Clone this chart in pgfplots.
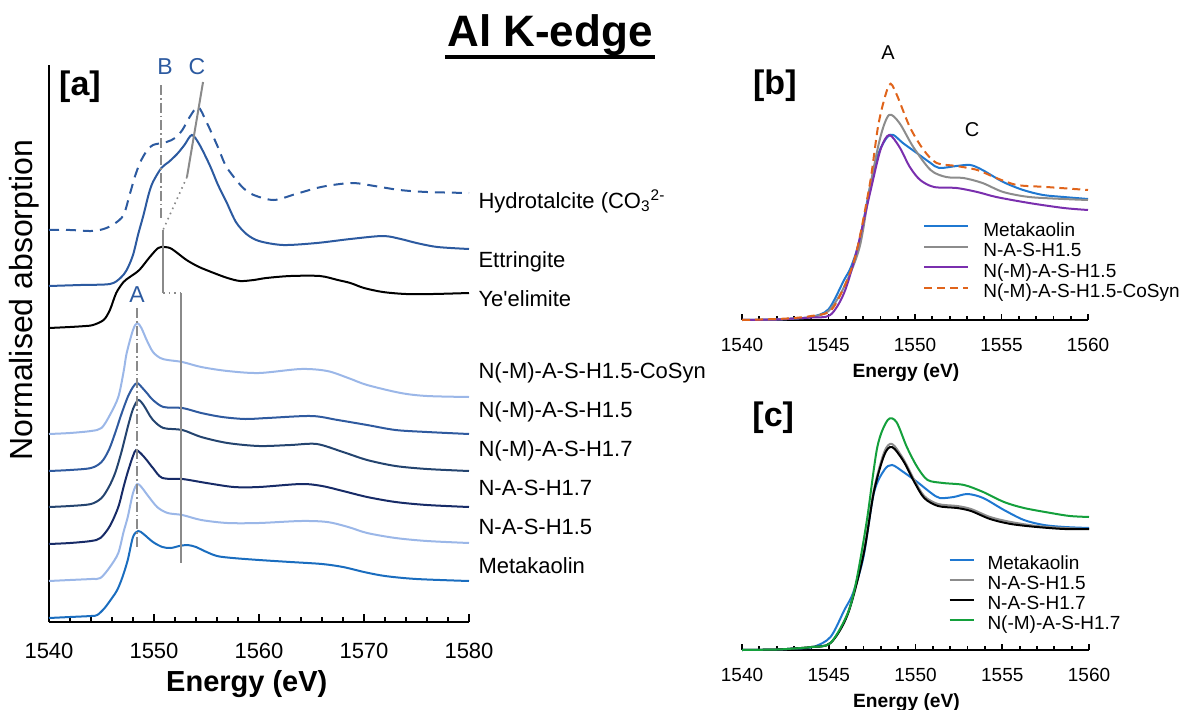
\documentclass[border=0pt]{standalone}
\usepackage{fontspec}
\setmainfont{Liberation Sans}[Ligatures=TeXOff]
\usepackage{pgfplots}
\pgfplotsset{compat=1.18}

% colours
\definecolor{hydro}{HTML}{2C5AA0}
\definecolor{lightb}{HTML}{9BB7E8}
\definecolor{nm15}{HTML}{2F5A9F}
\definecolor{nm17}{HTML}{24446F}
\definecolor{nash17}{HTML}{172B67}
\definecolor{meta}{HTML}{1A6DBF}
\definecolor{annot}{HTML}{8A8A8A}
\definecolor{bblue}{HTML}{1F78D1}
\definecolor{bgray}{HTML}{8C8C8C}
\definecolor{bpurple}{HTML}{7A2FAE}
\definecolor{borange}{HTML}{E0641B}
\definecolor{cgreen}{HTML}{14A03C}

\pgfplotsset{
  spec/.style={line width=1pt, smooth, tension=0.5, no marks},
  common/.style={
    scale only axis, anchor=south west, clip=false,
    axis x line*=bottom,
    axis line style={line width=1pt, -},
    xtick pos=left, xtick align=inside,
    tick style={line width=0.9pt, black},
    /pgf/number format/1000 sep={},
    /pgf/number format/assume math mode=true,
  },
}
\newcommand\fs[1]{\fontsize{#1}{#1}\selectfont}

\begin{document}
\begin{tikzpicture}
\useasboundingbox (0,0) rectangle (592pt,354.5pt);

%---------------- panel [a] ----------------
\begin{axis}[common,
  at={(24.5pt,43.5pt)}, width=210pt, height=278.5pt,
  xmin=1540, xmax=1580, ymin=0, ymax=557,
  axis y line*=left, ytick=\empty,
  xtick={1540,1550,...,1580}, minor x tick num=4,
  major tick length=4pt, minor tick length=2.6pt,
  xticklabel style={font=\fs{11}, anchor=base, yshift=-18.2pt},
  xlabel={Energy (eV)},
  xlabel style={font=\bfseries\fs{14.5}, at={(axis description cs:0.471,-0.111)}, anchor=center},
  ylabel={Normalised absorption},
  ylabel style={font=\fs{16}, at={(axis description cs:-0.058,0.578)}, anchor=center},
]
% Hydrotalcite (dashed)
\addplot[spec, hydro, dash pattern=on 5pt off 3.5pt] coordinates {
(1540,392)(1542,392)(1544,391)(1545.2,393)(1546.2,398)(1547.1,407)(1547.7,428)
(1548.2,446)(1548.7,460)(1549.3,471)(1549.9,477)(1551.2,480)(1552,484)(1552.7,492)
(1553.4,505)(1554.2,515)(1555,500)(1556,477)(1556.8,457)(1557.6,445)(1558.5,434)
(1559.5,427)(1561.4,422)(1563.5,428)(1565.5,434)(1567,437)(1569,439)(1571,436)
(1573.4,432)(1576,430)(1580,429)};
% Ettringite
\addplot[spec, hydro] coordinates {
(1540,336)(1543,337)(1545.8,338)(1546.8,344)(1547.4,352)(1548,367)(1548.5,388)
(1549,407)(1549.5,428)(1549.9,440)(1550.7,454)(1551.4,460)(1552.2,468)(1552.9,477)
(1553.6,487)(1554.3,478)(1555.3,457)(1556.1,437)(1556.9,420)(1557.8,400)(1558.8,388)
(1560,381)(1562.3,377)(1565.5,379)(1568.7,383)(1571.8,386)(1573.5,383)(1575,379)
(1577,375)(1580,373)};
% Ye'elimite
\addplot[spec, black] coordinates {
(1540,294)(1542,295)(1543.5,296)(1544.2,297)(1545.2,302)(1545.8,312)(1546.4,329)
(1547.1,340)(1547.7,345)(1548.6,352)(1549.6,365)(1550.4,374)(1551,375)(1551.7,373)
(1553.1,362)(1554.3,355)(1555.7,349)(1557,344)(1558.2,341)(1559.5,342)(1560.7,344)
(1563,346)(1565.8,346)(1567.5,342)(1568.7,339)(1570,334)(1571.8,330)(1574,328)
(1576.6,328)(1580,329)};
% N(-M)-A-S-H1.5-CoSyn
\addplot[spec, lightb] coordinates {
(1540,188)(1542,189)(1544,191)(1545,194)(1545.8,207)(1546.6,225)(1547.1,250)
(1547.4,269)(1548,292)(1548.4,299)(1548.8,294)(1549.3,282)(1549.9,270)(1550.6,264)
(1551.3,262)(1552.7,260)(1554.5,255)(1557,251)(1560,249)(1564,253)(1566.5,251)
(1568.5,244)(1570.3,237)(1573.5,229)(1576,226)(1580,225)};
% N(-M)-A-S-H1.5
\addplot[spec, nm15] coordinates {
(1540,151)(1542,152)(1544,154)(1545,160)(1545.7,172)(1546.3,189)(1546.9,208)
(1547.5,225)(1548,235)(1548.4,239)(1548.9,234)(1549.4,228)(1549.9,222)(1550.9,215)
(1552.7,214)(1554.5,209)(1556.5,205)(1558.7,203)(1560.8,204)(1565,206)(1567.5,202)
(1570.3,197)(1573,192)(1576,190)(1580,188)};
% N(-M)-A-S-H1.7
\addplot[spec, nm17] coordinates {
(1540,115)(1542,116)(1544,118)(1545,124)(1545.7,135)(1546.3,149)(1546.9,170)
(1547.5,195)(1548,213)(1548.5,222)(1549,217)(1549.4,210)(1549.9,202)(1550.9,194)
(1552.7,192)(1554.5,185)(1557,179)(1560,176)(1563,177)(1565.5,178)(1568,170)
(1570.3,162)(1573,156)(1576,153)(1580,151)};
% N-A-S-H1.7
\addplot[spec, nash17] coordinates {
(1540,78)(1542,79)(1544,81)(1544.9,84)(1545.8,96)(1546.6,115)(1547.1,135)
(1547.5,150)(1548,166)(1548.3,172)(1548.8,168)(1549.3,162)(1549.9,154)(1550.8,144)
(1552.7,143)(1555,139)(1557.6,135)(1560,135)(1564,138)(1566,136)(1568,131)
(1570.3,125)(1573,120)(1576,117)(1580,115)};
% N-A-S-H1.5
\addplot[spec, lightb] coordinates {
(1540,41)(1542,42)(1544,43)(1544.9,44)(1545.8,55)(1546.6,69)(1547.1,90)
(1547.5,105)(1548,129)(1548.4,138)(1548.8,135)(1549.3,128)(1550.3,115)(1551.3,109)
(1552.7,107)(1554.5,102)(1557,99)(1560,99)(1564,101)(1566.5,100)(1568.5,95)
(1570.3,89)(1573,84)(1576,81)(1580,79)};
% Metakaolin
\addplot[spec, meta] coordinates {
(1540,4)(1542,5)(1544,6)(1544.6,7)(1545.3,14)(1546,24)(1546.5,32)(1547,45)
(1547.5,62)(1548,85)(1548.5,91)(1549,88)(1549.9,80)(1550.8,75)(1551.6,74)
(1552.4,76)(1553.2,77)(1554,75)(1554.8,71)(1556,66)(1557.5,64)(1560,62)
(1563,60)(1566,58)(1568,55)(1570,50)(1572,46)(1575,43)(1580,41)};

% guide lines
\draw[annot, line width=1pt, dash pattern=on 5pt off 1.5pt on 0.8pt off 1.5pt]
  (axis cs:1550.67,537) -- (axis cs:1550.67,404);
\draw[annot, line width=1pt] (axis cs:1554.67,540) -- (axis cs:1553.14,445);
\draw[annot, line width=0.8pt, dotted] (axis cs:1553.14,445) -- (axis cs:1550.86,392);
\draw[annot, line width=1pt] (axis cs:1550.86,392) -- (axis cs:1550.86,329);
\draw[annot, line width=0.8pt, dotted] (axis cs:1550.86,329) -- (axis cs:1552.57,329);
\draw[annot, line width=1pt] (axis cs:1552.57,329) -- (axis cs:1552.57,59);
\draw[annot, line width=1pt, dash pattern=on 5pt off 1.5pt on 0.8pt off 1.5pt]
  (axis cs:1548.38,314) -- (axis cs:1548.38,74);

\node[hydro, font=\fs{11.5}, inner sep=0pt] at (axis cs:1548.38,327) {A};
\node[hydro, font=\fs{11.5}, inner sep=0pt] at (axis cs:1551.05,555) {B};
\node[hydro, font=\fs{11.5}, inner sep=0pt] at (axis cs:1554.1,555) {C};
\node[font=\bfseries\fs{17}, inner sep=0pt] at (axis cs:1542.95,535) {[a]};

% series names
\begin{scope}[every node/.style={font=\fs{11}, inner sep=0pt, anchor=base west}]
\node at (axis cs:1580.87,414) {Hydrotalcite (CO\textsubscript{3}\textsuperscript{2-}};
\node at (axis cs:1580.87,355) {Ettringite};
\node at (axis cs:1580.87,316) {Ye'elimite};
\node at (axis cs:1580.87,244) {N(-M)-A-S-H1.5-CoSyn};
\node at (axis cs:1580.87,205) {N(-M)-A-S-H1.5};
\node at (axis cs:1580.87,166) {N(-M)-A-S-H1.7};
\node at (axis cs:1580.87,127) {N-A-S-H1.7};
\node at (axis cs:1580.87,88) {N-A-S-H1.5};
\node at (axis cs:1580.87,49) {Metakaolin};
\end{scope}
\end{axis}

%---------------- panel [b] ----------------
\begin{axis}[common,
  at={(371pt,194.5pt)}, width=173pt, height=140pt,
  xmin=1540, xmax=1560, ymin=0, ymax=280,
  axis y line=none, ytick=\empty,
  xtick={1540,1545,...,1560}, minor x tick num=4,
  major tick length=3.2pt, minor tick length=2.2pt,
  xticklabel style={font=\fs{9.5}, anchor=base, yshift=-15.7pt},
  xlabel={Energy (eV)},
  xlabel style={font=\bfseries\fs{9.6}, at={(axis description cs:0.474,-0.186)}, anchor=center},
  legend style={at={(axis description cs:0.523,0.350)}, anchor=north west,
    draw=none, fill=none, inner sep=0pt, font=\fs{9.5}, row sep=1.25pt,
    nodes={inner sep=0pt, text height=7pt, text depth=2pt},
    /tikz/every odd column/.append style={column sep=7pt}},
  legend cell align=left,
  legend image code/.code={\draw[#1] (0pt,2.5pt) -- (22pt,2.5pt);},
]
\addplot[spec, bblue] coordinates {
(1540,0)(1542,0.5)(1543,1.5)(1544,3)(1545,10.7)(1545.9,40)(1546.3,53)(1546.8,80)
(1547.4,133)(1547.9,167)(1548.4,183)(1548.75,185)(1549.3,177)(1550.1,167)(1550.9,157)
(1551.4,152)(1552.4,154)(1553.2,155)(1553.9,150)(1555.1,138)(1556.25,130)(1557.4,125)
(1558.6,123)(1560,121)};
\addplot[spec, bgray] coordinates {
(1540,0)(1542,0.5)(1543,1.5)(1544,3)(1545,9)(1545.9,33)(1546.8,73)(1547.4,133)
(1548,183)(1548.5,205)(1549.1,197)(1549.9,173)(1550.9,150)(1551.8,143)(1552.8,142)
(1553.9,137)(1555.1,128)(1556.6,123)(1558.6,121)(1560,120)};
\addplot[spec, bpurple] coordinates {
(1540,0)(1542,0.5)(1543,1.5)(1544,2.5)(1545.1,5)(1545.9,27)(1546.6,67)(1547.4,127)
(1548,170)(1548.5,185)(1549.1,173)(1549.7,153)(1550.3,140)(1551.1,133)(1552.4,132)
(1553.6,128)(1554.7,123)(1556.6,117)(1558.6,112)(1560,110)};
\addplot[spec, borange, dash pattern=on 4pt off 2.5pt] coordinates {
(1540,0)(1542,1)(1543,2)(1544,4)(1545.1,9)(1545.9,33)(1546.6,67)(1547.4,137)
(1547.9,197)(1548.5,235)(1548.9,227)(1549.7,193)(1550.5,170)(1551.25,157)(1552.4,154)
(1553.6,150)(1554.7,142)(1555.9,135)(1557.6,133)(1560,130)};
\legend{Metakaolin, N-A-S-H1.5, N(-M)-A-S-H1.5, N(-M)-A-S-H1.5-CoSyn}
\node[font=\bfseries\fs{17}, inner sep=0pt] at (axis cs:1541.9,234) {[b]};
\node[font=\fs{10}, inner sep=0pt] at (axis cs:1548.44,267) {A};
\node[font=\fs{10}, inner sep=0pt] at (axis cs:1553.3,190) {C};
\end{axis}

%---------------- panel [c] ----------------
\begin{axis}[common,
  at={(371pt,29.5pt)}, width=173.5pt, height=135pt,
  xmin=1540, xmax=1560, ymin=0, ymax=270,
  axis y line=none, ytick=\empty,
  xtick={1540,1545,...,1560}, minor x tick num=4,
  major tick length=3.2pt, minor tick length=2.2pt,
  xticklabel style={font=\fs{9.5}, anchor=base, yshift=-15.7pt},
  xlabel={Energy (eV)},
  xlabel style={font=\bfseries\fs{9.6}, at={(axis description cs:0.474,-0.193)}, anchor=center},
  legend style={at={(axis description cs:0.594,0.350)}, anchor=north west,
    draw=none, fill=none, inner sep=0pt, font=\fs{9.5}, row sep=1pt,
    nodes={inner sep=0pt, text height=7pt, text depth=2pt},
    /tikz/every odd column/.append style={column sep=6.5pt}},
  legend cell align=left,
  legend image code/.code={\draw[#1] (0pt,2.5pt) -- (12pt,2.5pt);},
]
\addplot[spec, bblue] coordinates {
(1540,0)(1542,0.5)(1543,1.5)(1544.1,3)(1545.1,13)(1545.9,40)(1546.4,57)(1547,93)
(1547.6,157)(1548.2,180)(1548.65,185)(1549.3,178)(1550.1,168)(1550.9,157)(1551.4,152)
(1552.2,153)(1553,156)(1553.9,152)(1555.1,140)(1556.25,130)(1557.4,125)(1558.6,123)
(1560,122)};
\addplot[spec, bgray] coordinates {
(1540,0)(1542,0.5)(1543,1.5)(1544,3)(1545.1,7)(1546.1,37)(1547,97)(1547.6,160)
(1548.2,198)(1548.65,206)(1549.3,191)(1549.9,171)(1550.5,154)(1551.3,146)(1552.4,144)
(1553.2,141)(1554.3,133)(1555.5,128)(1557,124)(1558.6,122)(1560,121)};
\addplot[spec, black] coordinates {
(1540,0)(1542,0.5)(1543,1.5)(1544,3)(1545.1,7)(1546.1,36)(1547,95)(1547.6,158)
(1548.2,195)(1548.65,203)(1549.3,189)(1549.9,169)(1550.5,152)(1551.3,144)(1552.4,142)
(1553.2,139)(1554.3,131)(1555.5,126)(1557,123)(1558.6,121)(1560,121)};
\addplot[spec, cgreen] coordinates {
(1540,0)(1542,0.5)(1543,1.5)(1544,3)(1545.1,7)(1546.1,37)(1546.6,70)(1547.2,130)
(1547.8,203)(1548.4,230)(1548.9,228)(1549.5,203)(1550.1,183)(1550.7,170)(1551.6,167)
(1552.8,165)(1553.9,158)(1555.1,148)(1556.25,142)(1557.8,137)(1558.9,134)(1560,133)};
\legend{Metakaolin, N-A-S-H1.5, N-A-S-H1.7, N(-M)-A-S-H1.7}
\node[font=\bfseries\fs{17}, inner sep=0pt] at (axis cs:1541.8,232) {[c]};
\end{axis}

% title
\node[font=\bfseries\fs{22}, anchor=base, inner sep=0pt] at (275pt,331pt) {Al K-edge};
\draw[line width=1.6pt] (222.5pt,326pt) -- (327.5pt,326pt);
\end{tikzpicture}
\end{document}
